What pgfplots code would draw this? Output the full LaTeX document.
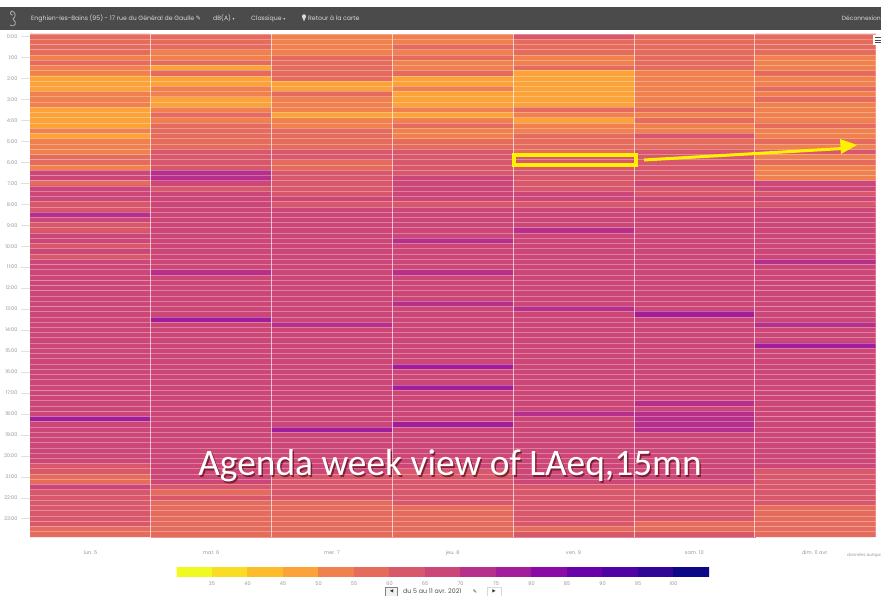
\documentclass[border=0pt]{standalone}
\usepackage{pgfplots}
\usepackage{fontspec}
\setmainfont{Poppins}
\newfontfamily\calf{Carlito}
\newfontfamily\djf{DejaVu Sans}
\pgfplotsset{compat=1.18}
\pgfplotsset{colormap={lq}{
rgb255=(240,249,33) rgb255=(249,220,36) rgb255=(254,188,42) rgb255=(251,162,56)
rgb255=(240,128,77) rgb255=(229,107,93) rgb255=(216,87,107) rgb255=(204,71,120)
rgb255=(182,48,139) rgb255=(162,29,154) rgb255=(139,10,165) rgb255=(106,0,168)
rgb255=(80,2,162) rgb255=(51,5,151) rgb255=(13,8,135)}}
\definecolor{barc}{RGB}{75,75,75}
\definecolor{tl}{RGB}{150,150,150}
\begin{document}
\begin{tikzpicture}[x=1pt,y=1pt]
\useasboundingbox (0,0) rectangle (881,596);
\fill[barc] (0,{596-7}) rectangle (881,{596-30});
\begin{axis}[
 at={(30pt,59pt)},anchor=south west,
 scale only axis,width=845.5pt,height=503pt,
 xmin=-0.5,xmax=6.5,ymin=-0.5,ymax=95.5,y dir=reverse,
 colormap name=lq,colormap access=direct,
 axis on top,axis line style={draw=none},
 xtick={0,...,6},xticklabels={lun. 5,mar. 6,mer. 7,jeu. 8,ven. 9,sam. 10,dim. 11 avr.},
 ytick={0,4,8,12,16,20,24,28,32,36,40,44,48,52,56,60,64,68,72,76,80,84,88,92},
 yticklabels={0:00,1:00,2:00,3:00,4:00,5:00,6:00,7:00,8:00,9:00,10:00,11:00,12:00,13:00,14:00,15:00,16:00,17:00,18:00,19:00,20:00,21:00,22:00,23:00},
 minor xtick={0.5,1.5,...,5.5},minor ytick={-0.5,0.5,...,95.5},
 xminorgrids=true,yminorgrids=true,
 minor x grid style={white,opacity=.65,line width=.7pt},
 minor y grid style={white,opacity=.3,line width=.8pt},
 minor tick length=0pt,
 xtick style={draw=none},
 ytick style={draw=black!12,line width=.4pt},
 major tick length=9pt,tickpos=left,
 tick align=outside,
 ticklabel style={font=\fontsize{5}{5}\selectfont,text=tl},
 xticklabel style={yshift=-1pt},
 yticklabel style={xshift=-0pt},
]
\addplot[matrix plot*,mesh/cols=7,point meta=\thisrowno{0}]
 table[header=false,row sep=\\,x expr={mod(\coordindex,7)},y expr={floor((\coordindex+0.5)/7)}]{
5\\5\\4\\4\\6\\5\\5\\
5\\5\\4\\4\\5\\5\\5\\
5\\5\\4\\5\\5\\5\\5\\
5\\4\\4\\4\\5\\5\\5\\
4\\4\\5\\5\\4\\5\\4\\
5\\5\\5\\4\\4\\5\\4\\
4\\3\\5\\4\\5\\5\\4\\
4\\5\\5\\5\\3\\4\\5\\
3\\3\\5\\3\\3\\4\\4\\
3\\3\\3\\3\\3\\4\\4\\
3\\4\\3\\4\\3\\4\\5\\
4\\4\\5\\3\\3\\4\\4\\
4\\3\\4\\3\\3\\4\\5\\
4\\3\\4\\3\\3\\4\\4\\
3\\4\\4\\4\\5\\5\\4\\
3\\5\\3\\3\\4\\4\\4\\
3\\4\\4\\4\\3\\5\\4\\
3\\5\\4\\5\\4\\4\\5\\
4\\5\\5\\4\\4\\4\\4\\
3\\5\\5\\4\\5\\6\\4\\
4\\5\\5\\5\\5\\5\\5\\
4\\5\\5\\5\\5\\5\\4\\
4\\6\\6\\6\\5\\6\\6\\
5\\6\\6\\6\\6\\6\\4\\
5\\6\\5\\6\\6\\6\\5\\
4\\6\\5\\6\\6\\6\\4\\
7\\8\\6\\6\\6\\6\\4\\
7\\8\\6\\7\\6\\6\\4\\
5\\7\\6\\7\\6\\7\\7\\
7\\6\\6\\7\\6\\6\\7\\
7\\7\\6\\7\\7\\6\\6\\
7\\7\\7\\7\\7\\7\\7\\
6\\7\\6\\6\\6\\6\\6\\
6\\7\\7\\7\\7\\7\\7\\
8\\7\\7\\7\\7\\7\\7\\
7\\7\\7\\7\\7\\7\\7\\
6\\7\\7\\7\\7\\7\\7\\
6\\7\\7\\7\\8\\7\\7\\
7\\7\\7\\7\\7\\7\\7\\
7\\7\\7\\8\\7\\7\\7\\
6\\7\\7\\7\\7\\7\\7\\
7\\7\\7\\7\\7\\7\\7\\
6\\7\\7\\7\\7\\7\\7\\
7\\7\\7\\7\\7\\7\\8\\
7\\7\\7\\7\\7\\7\\7\\
7\\8\\7\\8\\7\\7\\7\\
7\\7\\7\\7\\7\\7\\7\\
7\\7\\7\\7\\7\\7\\7\\
7\\7\\7\\7\\7\\7\\7\\
7\\7\\7\\7\\7\\7\\7\\
7\\7\\7\\7\\7\\7\\7\\
7\\7\\7\\8\\7\\7\\7\\
7\\7\\7\\7\\8\\7\\7\\
7\\7\\7\\7\\7\\9\\7\\
7\\9\\7\\7\\7\\7\\7\\
7\\7\\8\\7\\7\\7\\8\\
7\\7\\7\\7\\7\\7\\7\\
7\\7\\7\\7\\7\\7\\7\\
7\\7\\7\\7\\7\\7\\7\\
7\\7\\7\\7\\7\\7\\9\\
7\\7\\7\\7\\7\\7\\7\\
7\\7\\7\\7\\7\\7\\7\\
7\\7\\7\\7\\7\\7\\7\\
7\\7\\7\\9\\7\\7\\7\\
7\\7\\7\\7\\7\\7\\7\\
7\\7\\7\\7\\7\\7\\7\\
7\\7\\7\\7\\7\\7\\7\\
7\\7\\7\\9\\7\\7\\7\\
7\\7\\7\\7\\7\\7\\7\\
7\\7\\7\\7\\7\\7\\7\\
7\\7\\7\\7\\7\\8\\7\\
7\\7\\7\\7\\7\\7\\7\\
7\\7\\7\\7\\8\\8\\7\\
9\\7\\7\\7\\7\\8\\7\\
7\\7\\7\\9\\7\\8\\7\\
7\\7\\9\\7\\7\\8\\7\\
7\\7\\7\\7\\7\\7\\7\\
7\\7\\7\\7\\7\\7\\7\\
7\\7\\7\\7\\7\\7\\7\\
7\\7\\7\\7\\7\\7\\7\\
7\\7\\7\\7\\7\\7\\7\\
7\\7\\7\\7\\7\\7\\7\\
6\\7\\7\\7\\7\\7\\7\\
6\\7\\7\\6\\7\\7\\6\\
5\\7\\6\\6\\7\\7\\6\\
5\\7\\6\\6\\7\\7\\6\\
7\\6\\6\\6\\6\\6\\6\\
6\\5\\6\\6\\6\\6\\6\\
6\\6\\6\\6\\6\\6\\6\\
6\\5\\5\\6\\6\\6\\6\\
6\\5\\5\\5\\6\\6\\5\\
6\\5\\5\\5\\6\\6\\5\\
6\\5\\5\\5\\6\\6\\5\\
6\\5\\5\\5\\6\\5\\5\\
5\\5\\5\\5\\5\\5\\5\\
5\\5\\5\\5\\6\\6\\5\\
};
\end{axis}
\begin{axis}[
 at={(176.5pt,{596pt-577pt})},anchor=south west,
 scale only axis,width=532.5pt,height=9pt,
 xmin=0,xmax=15,ymin=0,ymax=1,
 colormap name=lq,colormap access=direct,
 axis line style={draw=none},
 ytick=\empty,
 xtick={1,...,14},xticklabels={35,40,45,50,55,60,65,70,75,80,85,90,95,100},
 xtick style={draw=none},major tick length=0pt,
 ticklabel style={font=\fontsize{5}{5}\selectfont,text=tl},
 xticklabel style={yshift=-1pt},
]
\addplot[matrix plot*,mesh/cols=15,point meta=\thisrowno{0}]
 table[header=false,row sep=\\,x expr={mod(\coordindex,15)+0.5},y expr={(\coordindex>14)}]{
0\\1\\2\\3\\4\\5\\6\\7\\8\\9\\10\\11\\12\\13\\14\\
0\\1\\2\\3\\4\\5\\6\\7\\8\\9\\10\\11\\12\\13\\14\\
};
\end{axis}
% top bar
\def\tb#1#2{\node[anchor=west,inner sep=0pt,text=white!85!black,font=\fontsize{6.2}{6.2}\selectfont] at (#1,{596-18.5}) {#2};}
\tb{31}{Enghien-les-Bains (95) - 17 rue du Général de Gaulle {\djf ✎}}
\tb{213}{dB(A) {\djf\fontsize{4}{4}\selectfont ▾}}
\tb{251}{Classique {\djf\fontsize{4}{4}\selectfont ▾}}
\tb{308}{Retour à la carte}
\node[anchor=east,inner sep=0pt,text=white!85!black,font=\fontsize{6}{6}\selectfont] at (881,{596-18.5}) {Déconnexion};
\fill[white!85!black] (304,{596-16.3}) circle (2) ;
\fill[white!85!black] (302.2,{596-17}) -- (305.8,{596-17}) -- (304,{596-21.5}) -- cycle;
% logo
\draw[white!65!black,line width=.9pt] (10,{596-25}) .. controls (16,{596-28}) and (17,{596-22}) .. (13,{596-19}) .. controls (16,{596-17}) and (16,{596-12}) .. (12,{596-11}) .. controls (9,{596-12}) and (11,{596-16}) .. (13,{596-15});
% menu icon
\fill[white] (873,{596-35}) rectangle (881,{596-45});
\foreach \yy in {37.5,40,42.5}{\draw[black!70,line width=.9pt] (874.5,{596-\yy}) -- (881,{596-\yy});}
% annotations
\draw[yellow,line width=3.6pt] (514,{596-155}) rectangle (636,{596-165});
\draw[yellow,line width=3pt] (644,{596-160}) -- (843,{596-148.5});
\fill[yellow] (840,{596-139}) -- (857,{596-145}) -- (841,{596-154}) -- cycle;
% big text
\node[inner sep=0pt,text=black!70!red,opacity=.6,font=\calf\fontsize{37.4}{37.4}\selectfont] at (451.5,{596-467.5}) {Agenda week view of LAeq,15mn};
\node[inner sep=0pt,text=white,font=\calf\fontsize{37.4}{37.4}\selectfont] at (450,{596-466}) {Agenda week view of LAeq,15mn};
% footer
\begin{scope}
\clip (0,0) rectangle (881,596);
\node[anchor=west,inner sep=0pt,text=tl,font=\fontsize{4.2}{4.2}\selectfont] at (847,{596-555.5}) {données autopa};
\end{scope}
\draw[black!50,line width=.8pt,fill=black!6] (385.5,{596-596}) rectangle (397.5,{596-587});
\node[inner sep=0pt,font=\djf\fontsize{4.5}{4.5}\selectfont,text=black!80] at (391.5,{596-591.5}) {◀};
\node[anchor=west,inner sep=0pt,font=\fontsize{6.3}{6.3}\selectfont,text=black!70] at (403,{596-591.5}) {du 5 au 11 avr. 2021};
\node[inner sep=0pt,font=\djf\fontsize{5}{5}\selectfont,text=black!80] at (475,{596-591.5}) {✎};
\draw[black!15,line width=.4pt] (487,0) rectangle (501,{596-587});
\node[inner sep=0pt,font=\djf\fontsize{4.5}{4.5}\selectfont,text=black!80] at (494,{596-591.5}) {▶};
\end{tikzpicture}
\end{document}
